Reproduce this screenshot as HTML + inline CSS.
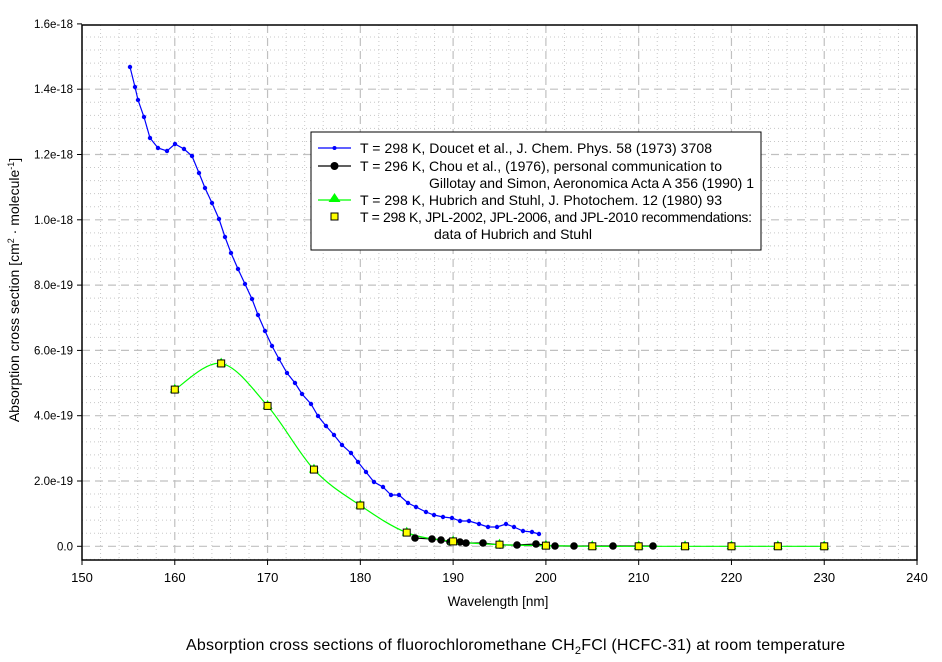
<!DOCTYPE html>
<html><head><meta charset="utf-8"><style>
html,body{margin:0;padding:0;background:#fff;}
svg{display:block;font-family:"Liberation Sans",Arial,sans-serif;}
</style></head><body>
<svg id="s" width="942" height="662" viewBox="0 0 942 662" xmlns="http://www.w3.org/2000/svg">
<rect width="942" height="662" fill="#fff"/>
<g id="grid"></g>
<g id="data"></g>
<rect x="82" y="25" width="835" height="535" fill="none" stroke="#000" stroke-width="1.5"/>
<g id="ticks" fill="#000"></g>
<text x="498" y="606" font-size="13.5" text-anchor="middle">Wavelength [nm]</text>
<text transform="translate(19,290) rotate(-90)" font-size="14" text-anchor="middle">Absorption cross section [cm<tspan font-size="9" dy="-5">2</tspan><tspan dy="5"> · molecule</tspan><tspan font-size="9" dy="-5">-1</tspan><tspan dy="5">]</tspan></text>
<text x="186" y="650" font-size="16" textLength="659">Absorption cross sections of fluorochloromethane CH<tspan font-size="11" dy="4">2</tspan><tspan dy="-4">FCl (HCFC-31) at room temperature</tspan></text>
<g id="legend">
<rect x="311" y="132" width="450" height="118" fill="#fff" stroke="#000" stroke-width="1"/>
<line x1="318" y1="148" x2="351" y2="148" stroke="#00f" stroke-width="1.2"/><circle cx="334.5" cy="148" r="2" fill="#00f"/>
<line x1="318" y1="166" x2="351" y2="166" stroke="#000" stroke-width="1.2"/><circle cx="334.5" cy="166" r="4" fill="#000"/>
<line x1="318" y1="200" x2="351" y2="200" stroke="#0f0" stroke-width="1.2"/><polygon points="334.5,193 340.5,202 328.5,202" fill="#0f0"/>
<rect x="331" y="213" width="7" height="7" fill="#ff0" stroke="#000"/>
<g font-size="14">
<text x="360" y="153" textLength="352">T = 298 K, Doucet et al., J. Chem. Phys. 58 (1973) 3708</text>
<text x="360" y="171" textLength="362">T = 296 K, Chou et al., (1976), personal communication to</text>
<text x="429" y="188" textLength="325">Gillotay and Simon, Aeronomica Acta A 356 (1990) 1</text>
<text x="360" y="205" textLength="362">T = 298 K, Hubrich and Stuhl, J. Photochem. 12 (1980) 93</text>
<text x="360" y="222" textLength="392">T = 298 K, JPL-2002, JPL-2006, and JPL-2010 recommendations:</text>
<text x="434" y="239" textLength="158">data of Hubrich and Stuhl</text>
</g></g>
</svg>
<script>
var NS="http://www.w3.org/2000/svg";
function el(p,t,a,txt){var e=document.createElementNS(NS,t);for(var k in a)e.setAttribute(k,a[k]);if(txt!=null)e.textContent=txt;document.getElementById(p).appendChild(e);return e;}
function X(l){return 82+(l-150)*9.278;}
function Y(v){return 546.3-v*32.65;}
for(var l=152;l<240;l+=2){var x=X(l);var maj=(l%10==0);
 el("grid","line",{x1:x,y1:25,x2:x,y2:560,stroke:maj?"#c0c0c0":"#c8c8c8","stroke-width":maj?1.2:1,"stroke-dasharray":maj?"8,5":"1,3"});}
for(var i=-1;i<=40;i++){var v=i*0.4;var y=Y(v);if(y>560||y<25.5)continue;var maj=(i%5==0);
 el("grid","line",{x1:82,y1:y,x2:917,y2:y,stroke:maj?"#c0c0c0":"#c8c8c8","stroke-width":maj?1.2:1,"stroke-dasharray":maj?"8,5":"1,3"});}
for(var l=150;l<=240;l+=10){var x=X(l);el("ticks","line",{x1:x,y1:560,x2:x,y2:565,stroke:"#000"});el("ticks","text",{x:x,y:582,"text-anchor":"middle","font-size":13},""+l);}
var yl=["0.0","2.0e-19","4.0e-19","6.0e-19","8.0e-19","1.0e-18","1.2e-18","1.4e-18","1.6e-18"];
for(var i=0;i<=8;i++){var y=Y(i*2);el("ticks","line",{x1:77,y1:y,x2:82,y2:y,stroke:"#000"});el("ticks","text",{x:73,y:y+4,"text-anchor":"end","font-size":11.5},yl[i]);}
var B=[[130,67],[135,87],[138,100],[144,117],[150,138],[158,148],[167,151],[175,144],[184,149],[192,156],[199,173],[205,188],[212,203],[219,219],[225,237],[231,253],[238,269],[245,284],[252,299],[258,315],[265,331],[272,346],[279,359],[287,373],[295,383],[302,394],[311,404],[318,416],[326,426],[334,435],[342,445],[351,453],[358,462],[366,472],[374,482],[383,487],[391,495],[399,495],[408,503],[416,507],[426,512],[434,515],[443,517],[452,518],[460,521],[469,521],[479,524],[488,527],[497,527],[506,524],[514,527],[523,531],[532,532],[539,534]];
el("data","polyline",{points:B.map(function(p){return p.join(",")}).join(" "),fill:"none",stroke:"#00f","stroke-width":1.2});
B.forEach(function(p){el("data","circle",{cx:p[0],cy:p[1],r:2.2,fill:"#00f"});});
var K=[[415,538],[432,539],[441,540],[450,542],[460,542],[466,543],[483,543],[500,545],[517,545],[536,544],[555,546],[574,546],[613,546],[653,546]];
el("data","polyline",{points:K.map(function(p){return p.join(",")}).join(" "),fill:"none",stroke:"#000","stroke-width":1.2});
var G=[[160,4.8],[165,5.6],[170,4.3],[175,2.35],[180,1.25],[185,0.42],[190,0.15],[195,0.05],[200,0.02],[205,0],[210,0],[215,0],[220,0],[225,0],[230,0]];
var P=G.map(function(g){return [X(g[0]),Y(g[1])];});
var d="M"+P[0][0]+","+P[0][1];
for(var i=0;i<P.length-1;i++){var p0=P[Math.max(0,i-1)],p1=P[i],p2=P[i+1],p3=P[Math.min(P.length-1,i+2)];
 d+=" C"+(p1[0]+(p2[0]-p0[0])/6)+","+(p1[1]+(p2[1]-p0[1])/6)+" "+(p2[0]-(p3[0]-p1[0])/6)+","+(p2[1]-(p3[1]-p1[1])/6)+" "+p2[0]+","+p2[1];}
el("data","path",{d:d,fill:"none",stroke:"#0f0","stroke-width":1.2});
K.forEach(function(p){el("data","circle",{cx:p[0],cy:p[1],r:3.8,fill:"#000"});});
P.forEach(function(p){el("data","polygon",{points:(p[0])+","+(p[1]-6)+" "+(p[0]+5)+","+(p[1]+3)+" "+(p[0]-5)+","+(p[1]+3),fill:"#0f0"});});
P.forEach(function(p){el("data","rect",{x:p[0]-3.5,y:p[1]-3.5,width:7,height:7,fill:"#ff0",stroke:"#000","stroke-width":1});});
</script>
</body></html>
